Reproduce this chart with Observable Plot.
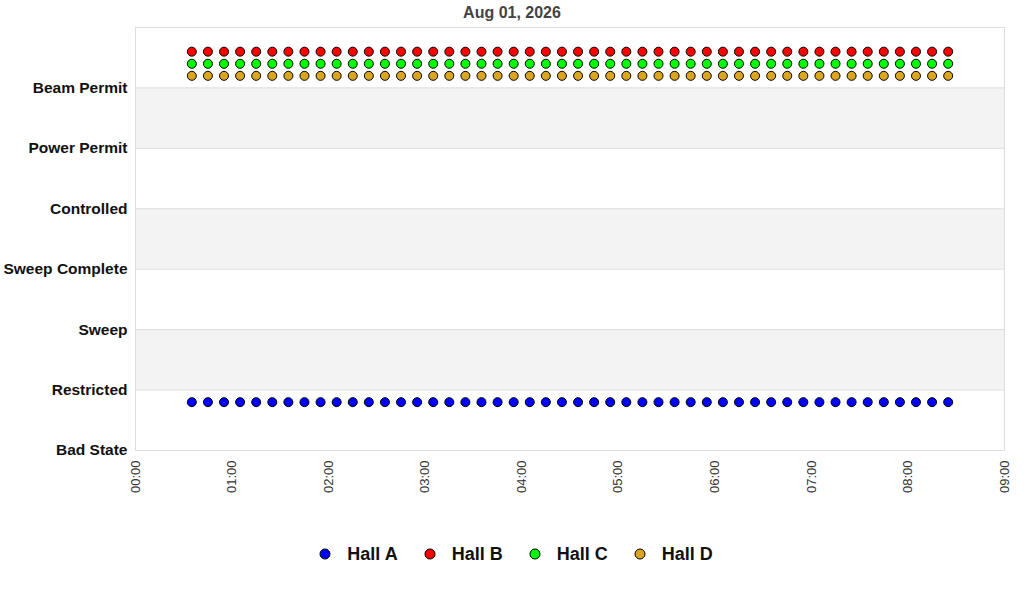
<!DOCTYPE html>
<html>
<head>
<meta charset="utf-8">
<script src="https://cdn.jsdelivr.net/npm/d3@7"></script>
<script src="https://cdn.jsdelivr.net/npm/@observablehq/plot@0.6"></script>
<style>
  html, body { margin: 0; padding: 0; background: #fff; }
  body { width: 1024px; height: 600px; position: relative; overflow: hidden; font-family: "Liberation Sans", Arial, sans-serif; }
  #title { position: absolute; top: 3px; left: 0; width: 1024px; text-align: center; font-weight: bold; font-size: 16px; color: #444; line-height: 20px; z-index: 2; }
  #chart { position: absolute; top: 0; left: 0; z-index: 1; }
  #legend { position: absolute; top: 542px; left: 4px; width: 1024px; display: flex; justify-content: center; align-items: center; font-weight: bold; font-size: 18px; color: #111; line-height: 24px; }
  #legend .item { display: flex; align-items: center; margin: 0 13px; }
  #legend svg { margin-right: 16px; }
</style>
</head>
<body>
<div id="title"></div>
<div id="chart"></div>
<div id="legend"></div>
<script>
const titleText = "Aug 01, 2026";
const stateNames = ["Bad State", "Restricted", "Sweep", "Sweep Complete", "Controlled", "Power Permit", "Beam Permit"];
const halls = ["Hall A", "Hall B", "Hall C", "Hall D"];
const hallColors = ["#0000ff", "#ff0000", "#00ff00", "#daa520"];
const xTickLabels = ["00:00","01:00","02:00","03:00","04:00","05:00","06:00","07:00","08:00","09:00"];
const times = ["00:35","00:45","00:55","01:05","01:15","01:25","01:35","01:45","01:55","02:05","02:15","02:25",
               "02:35","02:45","02:55","03:05","03:15","03:25","03:35","03:45","03:55","04:05","04:15","04:25",
               "04:35","04:45","04:55","05:05","05:15","05:25","05:35","05:45","05:55","06:05","06:15","06:25",
               "06:35","06:45","06:55","07:05","07:15","07:25","07:35","07:45","07:55","08:05","08:15","08:25"];
const hallA = [0.8,0.8,0.8,0.8,0.8,0.8,0.8,0.8,0.8,0.8,0.8,0.8,0.8,0.8,0.8,0.8,0.8,0.8,0.8,0.8,0.8,0.8,0.8,0.8,
               0.8,0.8,0.8,0.8,0.8,0.8,0.8,0.8,0.8,0.8,0.8,0.8,0.8,0.8,0.8,0.8,0.8,0.8,0.8,0.8,0.8,0.8,0.8,0.8];
const hallB = [6.6,6.6,6.6,6.6,6.6,6.6,6.6,6.6,6.6,6.6,6.6,6.6,6.6,6.6,6.6,6.6,6.6,6.6,6.6,6.6,6.6,6.6,6.6,6.6,
               6.6,6.6,6.6,6.6,6.6,6.6,6.6,6.6,6.6,6.6,6.6,6.6,6.6,6.6,6.6,6.6,6.6,6.6,6.6,6.6,6.6,6.6,6.6,6.6];
const hallC = [6.4,6.4,6.4,6.4,6.4,6.4,6.4,6.4,6.4,6.4,6.4,6.4,6.4,6.4,6.4,6.4,6.4,6.4,6.4,6.4,6.4,6.4,6.4,6.4,
               6.4,6.4,6.4,6.4,6.4,6.4,6.4,6.4,6.4,6.4,6.4,6.4,6.4,6.4,6.4,6.4,6.4,6.4,6.4,6.4,6.4,6.4,6.4,6.4];
const hallD = [6.2,6.2,6.2,6.2,6.2,6.2,6.2,6.2,6.2,6.2,6.2,6.2,6.2,6.2,6.2,6.2,6.2,6.2,6.2,6.2,6.2,6.2,6.2,6.2,
               6.2,6.2,6.2,6.2,6.2,6.2,6.2,6.2,6.2,6.2,6.2,6.2,6.2,6.2,6.2,6.2,6.2,6.2,6.2,6.2,6.2,6.2,6.2,6.2];
const bandStarts = [1, 3, 5];

const day = "2026-08-01T";
const toDate = s => new Date(day + s + ":00Z");
const series = [hallA, hallB, hallC, hallD];
const data = [];
series.forEach((vals, i) => {
  vals.forEach((v, j) => data.push({hall: halls[i], time: toDate(times[j]), value: v}));
});
const xTicks = xTickLabels.map(toDate);
const bands = bandStarts.map(b => ({y1: b, y2: b + 1}));
const gridVals = stateNames.map((_, i) => i).concat([stateNames.length]);

document.getElementById("title").textContent = titleText;

const chart = Plot.plot({
  width: 1024,
  height: 520,
  marginLeft: 135,
  marginRight: 20,
  marginTop: 27,
  marginBottom: 70,
  style: {fontFamily: "'Liberation Sans', Arial, sans-serif", background: "transparent"},
  x: {type: "utc", domain: [xTicks[0], xTicks[xTicks.length - 1]]},
  y: {domain: [0, stateNames.length]},
  color: {domain: halls, range: hallColors},
  marks: [
    Plot.rectY(bands, {x1: xTicks[0], x2: xTicks[xTicks.length - 1], y1: "y1", y2: "y2", fill: "#f3f3f3"}),
    Plot.ruleY(gridVals, {stroke: "#dddddd", strokeWidth: 1}),
    Plot.frame({stroke: "#dddddd"}),
    Plot.axisX({ticks: xTicks, tickFormat: d3.utcFormat("%H:%M"), tickSize: 0, tickPadding: 10, tickRotate: -90, fontSize: 13, fill: "#333", label: null}),
    Plot.axisY({ticks: stateNames.map((_, i) => i), tickFormat: i => stateNames[i], tickSize: 0, tickPadding: 8, fontSize: 15.5, fontWeight: "bold", fill: "#111", label: null}),
    Plot.dot(data, {x: "time", y: "value", fill: "hall", stroke: "#000", strokeWidth: 1, r: 4.5})
  ]
});
document.getElementById("chart").appendChild(chart);

const legend = document.getElementById("legend");
halls.forEach((h, i) => {
  const item = document.createElement("span");
  item.className = "item";
  item.innerHTML = `<svg width="12" height="12"><circle cx="6" cy="6" r="5" fill="${hallColors[i]}" stroke="#000" stroke-width="1"/></svg>${h}`;
  legend.appendChild(item);
});
</script>
</body>
</html>
